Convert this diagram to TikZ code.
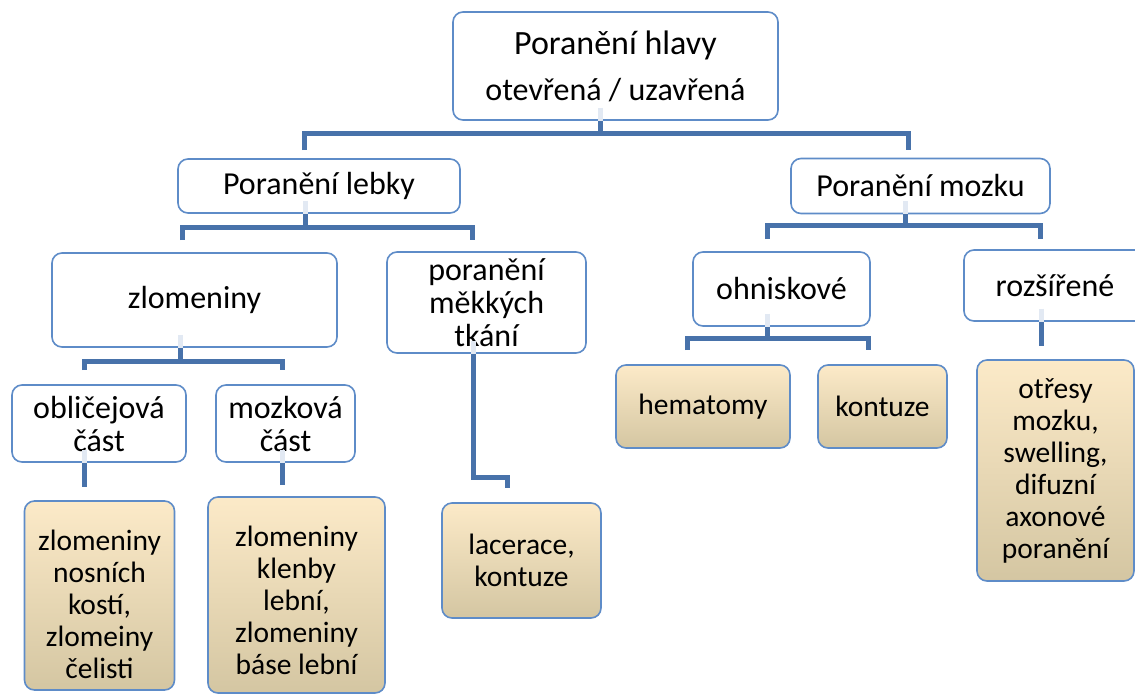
\documentclass[tikz,border=0pt]{standalone}
\usepackage{fontspec}
\setmainfont{Carlito}
\definecolor{connblue}{RGB}{72,114,170}
\definecolor{connpale}{RGB}{226,233,243}
\definecolor{boxblue}{RGB}{94,140,200}
\definecolor{leaftop}{RGB}{252,234,200}
\definecolor{leafmid}{RGB}{243,235,214}
\definecolor{leafbot}{RGB}{212,198,162}
\tikzset{
  box/.style={draw=boxblue, line width=1.6pt, rounded corners=10pt, fill=white,
    align=center, inner sep=0pt, font=\fontsize{32pt}{33pt}\selectfont},
  leaf/.style={box, fill=none, top color=leaftop, middle color=leafmid, bottom color=leafbot,
    font=\fontsize{29.5pt}{32pt}\selectfont},
  conn/.style={draw=connblue, line width=5pt},
  fade/.style={draw=connpale, line width=5pt}
}
\begin{document}
\begin{tikzpicture}[x=1pt,y=-1pt]
\clip (0,0) rectangle (1135,697);
\fill[white] (0,0) rectangle (1135,697);

% nodes
\node[box, minimum width=325pt, minimum height=108pt] (top) at (615.5,66)
  {{\fontsize{34pt}{36pt}\selectfont Poranění hlavy}\\[13pt]{\fontsize{32pt}{34pt}\selectfont otevřená / uzavřená}};
\node[box, minimum width=282pt, minimum height=54pt] (lebky) at (319,186) {Poranění lebky};
\node[box, minimum width=259pt, minimum height=55pt] (mozku) at (920.5,186) {Poranění mozku};
\node[box, minimum width=285pt, minimum height=94pt] (zlom) at (194.5,300) {zlomeniny};
\node[box, minimum width=199pt, minimum height=101pt] (mekk) at (486.5,302.5) {poranění\\měkkých\\tkání};
\node[box, minimum width=174pt, minimum height=77pt] (oblic) at (99,423.5) {obličejová\\část};
\node[box, minimum width=139pt, minimum height=77pt] (mozk) at (285.5,423.5) {mozková\\část};
\node[box, minimum width=177pt, minimum height=74pt] (ohn) at (781.5,289) {ohniskové};
\node[box, minimum width=182pt, minimum height=71pt] (roz) at (1055,285.5) {rozšířené};

\node[leaf, minimum width=150pt, minimum height=189pt] (leafA) at (99.5,595.5)
  {\rule{0pt}{38pt}zlomeniny\\nosních\\kostí,\\zlomeiny\\čelisti};
\node[leaf, minimum width=177pt, minimum height=196pt] (leafB) at (296.5,595)
  {\rule{0pt}{32pt}zlomeniny\\klenby\\lební,\\zlomeniny\\báse lební};
\node[leaf, minimum width=159pt, minimum height=115pt] (leafC) at (521.5,560.5)
  {lacerace,\\kontuze};
\node[leaf, minimum width=174pt, minimum height=83pt] (hem) at (703,406.5) {hematomy};
\node[leaf, minimum width=129pt, minimum height=83pt] (kont) at (882.5,406.5) {kontuze};
\node[leaf, minimum width=157pt, minimum height=221pt] (leafD) at (1055.5,470.5)
  {otřesy\\mozku,\\swelling,\\difuzní\\axonové\\poranění};

% junction coordinates
\coordinate (j1) at (600,133);
\coordinate (d1a) at (304,150);
\coordinate (d1b) at (908,150);
\coordinate (j2) at (305,227);
\coordinate (d2a) at (182,240);
\coordinate (d2b) at (472,240);
\coordinate (j3) at (905,225);
\coordinate (d3a) at (767,239);
\coordinate (d3b) at (1040,239);
\coordinate (j4) at (180,361);
\coordinate (d4a) at (84,370);
\coordinate (d4b) at (282,370);
\coordinate (j5) at (767,338);
\coordinate (d5a) at (687,350);
\coordinate (d5b) at (868,350);
\coordinate (m1) at (473,477);
\coordinate (m2) at (507,488);
\coordinate (e1) at (84,487);
\coordinate (e2) at (282,485);
\coordinate (e3) at (1041,346);

% pale parts of the stubs inside the boxes
\draw[fade] ([yshift=13pt]top.south -| j1) -- (top.south -| j1);
\draw[fade] ([yshift=13pt]lebky.south -| j2) -- (lebky.south -| j2);
\draw[fade] ([yshift=13pt]mozku.south -| j3) -- (mozku.south -| j3);
\draw[fade] ([yshift=13pt]zlom.south -| j4) -- (zlom.south -| j4);
\draw[fade] ([yshift=13pt]ohn.south -| j5) -- (ohn.south -| j5);
\draw[fade] ([yshift=13pt]roz.south -| e3) -- (roz.south -| e3);
\draw[fade] ([yshift=13pt]oblic.south -| e1) -- (oblic.south -| e1);
\draw[fade] ([yshift=13pt]mozk.south -| e2) -- (mozk.south -| e2);
\draw[fade] ([yshift=13pt]mekk.south -| m1) -- (mekk.south -| m1);

% connectors
\draw[conn] (top.south -| j1) -- (j1);
\draw[conn] (d1a) |- (j1) -| (d1b);
\draw[conn] (lebky.south -| j2) -- (j2);
\draw[conn] (d2a) |- (j2) -| (d2b);
\draw[conn] (mozku.south -| j3) -- (j3);
\draw[conn] (d3a) |- (j3) -| (d3b);
\draw[conn] (zlom.south -| j4) -- (j4);
\draw[conn] (d4a) |- (j4) -| (d4b);
\draw[conn] (ohn.south -| j5) -- (j5);
\draw[conn] (d5a) |- (j5) -| (d5b);
\draw[conn] (mekk.south -| m1) -- (m1) -| (m2);
\draw[conn] (oblic.south -| e1) -- (e1);
\draw[conn] (mozk.south -| e2) -- (e2);
\draw[conn] (roz.south -| e3) -- (e3);
\end{tikzpicture}
\end{document}
